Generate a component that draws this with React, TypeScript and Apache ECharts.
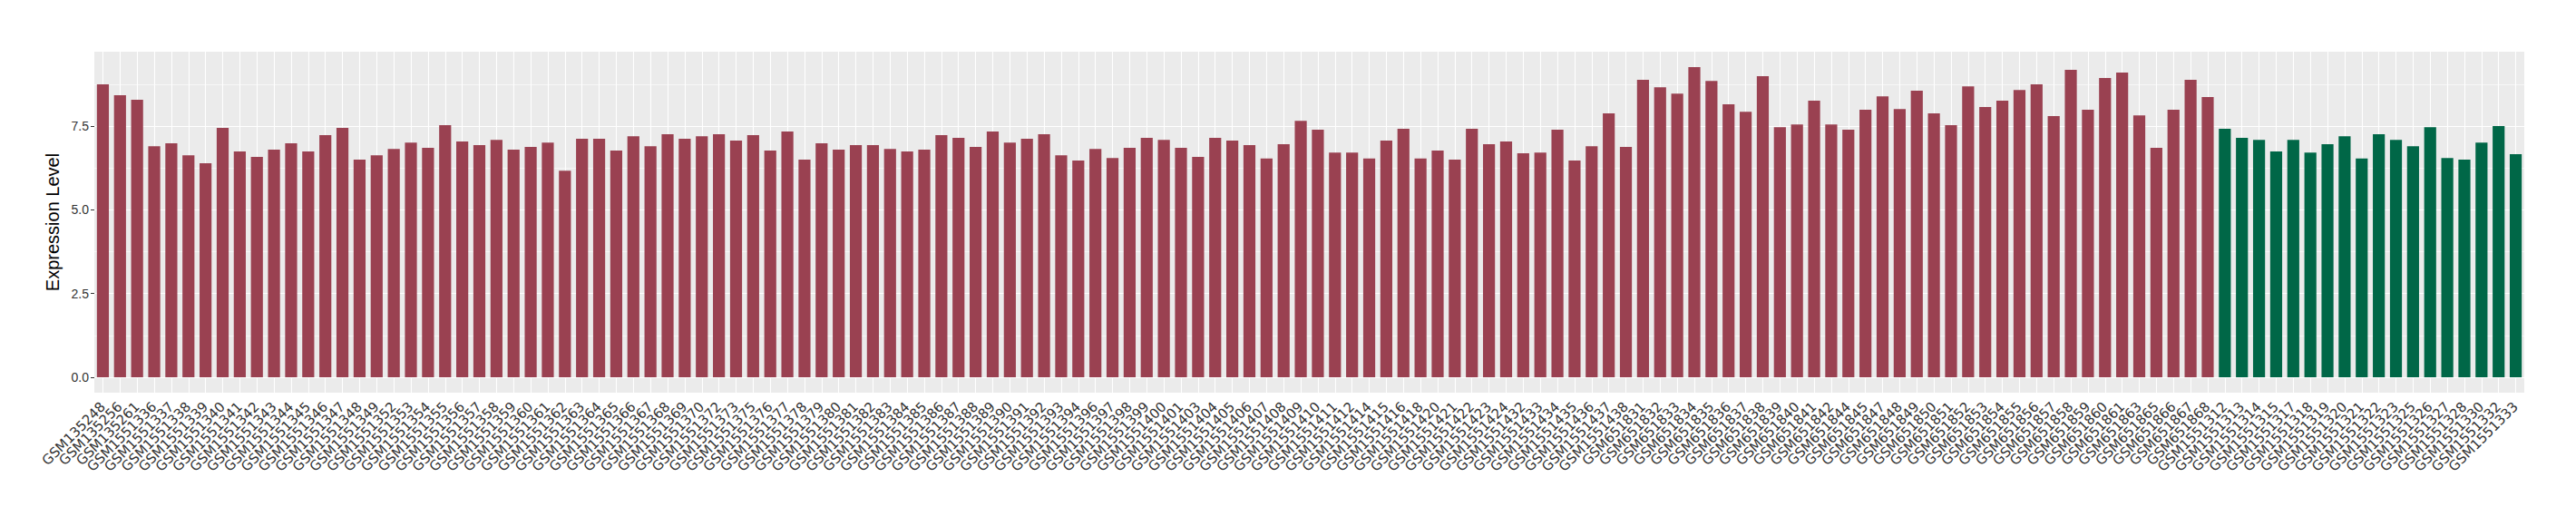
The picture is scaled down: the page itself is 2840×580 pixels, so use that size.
import React, { useEffect, useRef } from "react";
import * as echarts from "echarts";

const TUMOR_SAMPLES = [
  "GSM135248", "GSM135256", "GSM135261",
  "GSM1551336", "GSM1551337", "GSM1551338", "GSM1551339", "GSM1551340", "GSM1551341", "GSM1551342",
  "GSM1551343", "GSM1551344", "GSM1551345", "GSM1551346", "GSM1551347", "GSM1551348", "GSM1551349",
  "GSM1551352", "GSM1551353", "GSM1551354", "GSM1551355", "GSM1551356", "GSM1551357", "GSM1551358",
  "GSM1551359", "GSM1551360", "GSM1551361", "GSM1551362", "GSM1551363", "GSM1551364", "GSM1551365",
  "GSM1551366", "GSM1551367", "GSM1551368", "GSM1551369", "GSM1551370", "GSM1551372", "GSM1551373",
  "GSM1551375", "GSM1551376", "GSM1551377", "GSM1551378", "GSM1551379", "GSM1551380", "GSM1551381",
  "GSM1551382", "GSM1551383", "GSM1551384", "GSM1551385", "GSM1551386", "GSM1551387", "GSM1551388",
  "GSM1551389", "GSM1551390", "GSM1551391", "GSM1551392", "GSM1551393", "GSM1551394", "GSM1551396",
  "GSM1551397", "GSM1551398", "GSM1551399", "GSM1551400", "GSM1551401", "GSM1551403", "GSM1551404",
  "GSM1551405", "GSM1551406", "GSM1551407", "GSM1551408", "GSM1551409", "GSM1551410", "GSM1551411",
  "GSM1551412", "GSM1551414", "GSM1551415", "GSM1551416", "GSM1551418", "GSM1551420", "GSM1551421",
  "GSM1551422", "GSM1551423", "GSM1551424", "GSM1551432", "GSM1551433", "GSM1551434", "GSM1551435",
  "GSM1551436", "GSM1551437", "GSM1551438",
  "GSM651831", "GSM651832", "GSM651833", "GSM651834", "GSM651835", "GSM651836", "GSM651837",
  "GSM651838", "GSM651839", "GSM651840", "GSM651841", "GSM651842", "GSM651844", "GSM651845",
  "GSM651847", "GSM651848", "GSM651849", "GSM651850", "GSM651851", "GSM651852", "GSM651853",
  "GSM651854", "GSM651855", "GSM651856", "GSM651857", "GSM651858", "GSM651859", "GSM651860",
  "GSM651861", "GSM651863", "GSM651865", "GSM651866", "GSM651867", "GSM651868",
];

const TUMOR_VALUES = [
  8.75, 8.42, 8.29,
  6.90, 6.99, 6.63, 6.39, 7.45, 6.74, 6.58,
  6.80, 6.99, 6.74, 7.23, 7.45, 6.50, 6.63,
  6.82, 7.01, 6.85, 7.53, 7.04, 6.93, 7.09,
  6.80, 6.88, 7.01, 6.17, 7.12, 7.12, 6.77,
  7.20, 6.90, 7.26, 7.12, 7.20, 7.26, 7.07,
  7.23, 6.77, 7.34, 6.50, 6.99, 6.80, 6.93,
  6.93, 6.82, 6.74, 6.80, 7.23, 7.15, 6.88,
  7.34, 7.01, 7.12, 7.26, 6.63, 6.47, 6.82,
  6.55, 6.85, 7.15, 7.09, 6.85, 6.58, 7.15,
  7.07, 6.93, 6.53, 6.96, 7.66, 7.39, 6.71,
  6.71, 6.53, 7.07, 7.42, 6.53, 6.77, 6.50,
  7.42, 6.96, 7.04, 6.69, 6.71, 7.39, 6.47,
  6.90, 7.88, 6.88,
  8.88, 8.66, 8.47, 9.26, 8.85, 8.15, 7.93,
  8.99, 7.47, 7.55, 8.26, 7.55, 7.39, 7.99,
  8.39, 8.01, 8.56, 7.88, 7.53, 8.69, 8.07,
  8.26, 8.58, 8.75, 7.80, 9.18, 7.99, 8.94,
  9.10, 7.82, 6.85, 7.99, 8.88, 8.37,
];

const NORMAL_SAMPLES = [
  "GSM1551312", "GSM1551313", "GSM1551314", "GSM1551315", "GSM1551317", "GSM1551318",
  "GSM1551319", "GSM1551320", "GSM1551321", "GSM1551322", "GSM1551323", "GSM1551325",
  "GSM1551326", "GSM1551327", "GSM1551328", "GSM1551330", "GSM1551332", "GSM1551333",
];

const NORMAL_VALUES = [
  7.42, 7.15, 7.09, 6.74, 7.09, 6.71,
  6.96, 7.20, 6.53, 7.26, 7.09, 6.90,
  7.47, 6.55, 6.50, 7.01, 7.50, 6.66,
];

const Y_TICKS = [0, 2.5, 5, 7.5];
const Y_MINOR = [1.25, 3.75, 6.25, 8.75];

const TUMOR_COLOR = "#9A4151";
const NORMAL_COLOR = "#006747";

export default function App() {
  const ref = useRef<HTMLDivElement>(null);

  useEffect(() => {
    if (!ref.current) return;
    const chart = echarts.init(ref.current, null, { renderer: "svg" });

    const categories = [...TUMOR_SAMPLES, ...NORMAL_SAMPLES];
    const data = [
      ...TUMOR_VALUES.map((v) => ({ value: v, itemStyle: { color: TUMOR_COLOR } })),
      ...NORMAL_VALUES.map((v) => ({ value: v, itemStyle: { color: NORMAL_COLOR } })),
    ];
    const maxVal = Math.max(...TUMOR_VALUES, ...NORMAL_VALUES);
    const pad = maxVal * 0.05;

    const gridLines = [
      ...Y_MINOR.map((y) => ({ yAxis: y, lineStyle: { color: "#FFFFFF", width: 0.6, type: "solid" } })),
      ...categories.map((c) => ({ xAxis: c, lineStyle: { color: "#FFFFFF", width: 1.1, type: "solid" } })),
      ...Y_TICKS.map((y) => ({ yAxis: y, lineStyle: { color: "#FFFFFF", width: 1.1, type: "solid" } })),
    ];

    chart.setOption({
      animation: false,
      backgroundColor: "#FFFFFF",
      grid: {
        left: 104,
        right: 57,
        top: 57,
        bottom: 147,
        show: true,
        backgroundColor: "#EBEBEB",
        borderWidth: 0,
      },
      xAxis: {
        type: "category",
        data: categories,
        boundaryGap: true,
        axisLine: { show: false },
        axisTick: { show: true, alignWithLabel: true, length: 4, lineStyle: { color: "#333333", width: 1 } },
        splitLine: { show: false },
        axisLabel: {
          interval: 0,
          rotate: 45,
          margin: 13,
          fontSize: 15,
          fontFamily: "DejaVu Sans",
          color: "#333333",
        },
      },
      yAxis: {
        type: "value",
        min: -pad,
        max: maxVal + pad,
        name: "Expression Level",
        nameLocation: "middle",
        nameGap: 27,
        nameTextStyle: { fontSize: 20, fontFamily: "Liberation Sans", color: "#000000" },
        axisLine: { show: false },
        axisTick: { show: true, length: 4, customValues: Y_TICKS, lineStyle: { color: "#333333", width: 1 } },
        axisLabel: {
          customValues: Y_TICKS,
          margin: 6,
          fontSize: 14,
          fontFamily: "Liberation Sans",
          color: "#333333",
          formatter: (v: number) => v.toFixed(1),
        },
        splitLine: { show: false },
      },
      series: [
        {
          type: "bar",
          data,
          barWidth: "70%",
          z: 2,
          markLine: {
            z: 1,
            silent: true,
            symbol: ["none", "none"],
            label: { show: false },
            emphasis: { disabled: true },
            data: gridLines,
          },
        },
      ],
    });

    return () => chart.dispose();
  }, []);

  return (
    <div
      ref={ref}
      style={{ position: "fixed", left: 0, top: 0, width: 2840, height: 580 }}
    />
  );
}
